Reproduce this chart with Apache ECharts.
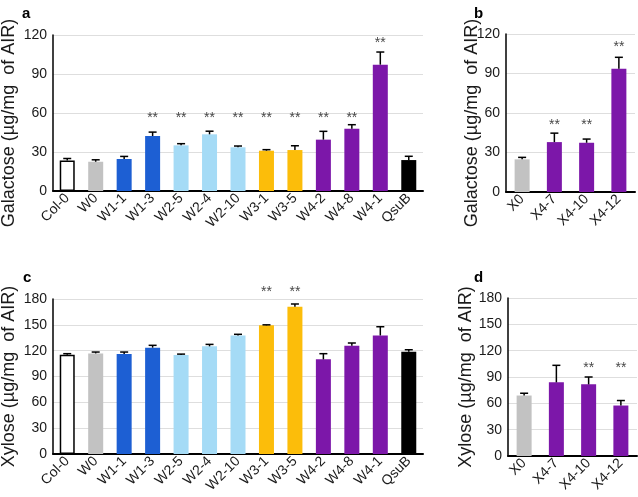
<!DOCTYPE html>
<html>
<head>
<meta charset="utf-8">
<script src="https://cdn.jsdelivr.net/npm/echarts@6/dist/echarts.min.js"></script>
<style>
html, body { margin: 0; padding: 0; background: #fff; }
#chart { width: 638px; height: 497px; }
</style>
</head>
<body>
<div id="chart"></div>
<script>
// lines in panels a/c and b/d
var linesW = ['Col-0', 'W0', 'W1-1', 'W1-3', 'W2-5', 'W2-4', 'W2-10', 'W3-1', 'W3-5', 'W4-2', 'W4-8', 'W4-1', 'QsuB'];
var linesX = ['X0', 'X4-7', 'X4-10', 'X4-12'];

// a: galactose, W lines
var galA = [23.5, 22.5, 24.6, 42.3, 35.1, 43.6, 33.6, 31, 31.5, 39.5, 47.9, 97.2, 23.8];
var galAErr = [1.5, 1.5, 2, 3, 1.3, 2.4, 1, 0.8, 3.3, 6.4, 3.1, 9.7, 2.9];
var galAStars = [null, null, null, 56, 56, 56, 56, 56, 56, 56, 56, 114, null];

// b: galactose, X lines
var galB = [24.8, 37.9, 37.4, 93.7];
var galBErr = [1.5, 6.8, 2.8, 8.6];
var galBStars = [null, 51, 51, 110];

// c: xylose, W lines
var xylC = [115.3, 116.8, 116.1, 123.5, 115, 125, 137.7, 149.4, 171, 109.9, 125.8, 137.7, 118.8];
var xylCErr = [1.2, 1.6, 2.3, 2.7, 1, 2.3, 1.3, 0.6, 3.2, 6.6, 3.1, 10.1, 2.3];
var xylCStars = [null, null, null, null, null, null, null, 188, 188, null, null, null, null];

// d: xylose, X lines
var xylD = [68.9, 83.9, 81.6, 57.5];
var xylDErr = [2.6, 19.4, 8.4, 5.7];
var xylDStars = [null, null, 100, 100];

var galTicks = { max: 120, interval: 30 };
var xylTicks = { max: 180, interval: 30 };

var font = 'Liberation Sans, Arial, sans-serif';

function barStyle(name) {
    if (name === 'Col-0') return { color: '#fff', borderColor: '#000', borderWidth: 1.5 };
    if (name === 'W0' || name === 'X0') return { color: '#c2c2c2' };
    if (name === 'QsuB') return { color: '#000' };
    var g = name.slice(0, 2);
    if (g === 'W1') return { color: '#1d5fd3' };
    if (g === 'W2') return { color: '#a5dbf6' };
    if (g === 'W3') return { color: '#fcbd0a' };
    return { color: '#7c17a9' };
}

// upward error bar with a cap
function renderErr(params, api) {
    var x = api.value(0);
    var base = api.coord([x, api.value(1)]);
    var top = api.coord([x, api.value(2)]);
    var ls = { stroke: '#000', lineWidth: 1.5 };
    return {
        type: 'group',
        children: [
            { type: 'line', shape: { x1: base[0], y1: base[1], x2: top[0], y2: top[1] }, style: ls },
            { type: 'line', shape: { x1: top[0] - 4, y1: top[1], x2: top[0] + 4, y2: top[1] }, style: ls }
        ]
    };
}

function xAxisFor(idx, cats) {
    return {
        type: 'category', gridIndex: idx, data: cats,
        axisLine: { lineStyle: { color: '#000', width: 2 } },
        axisTick: { show: false },
        axisLabel: { interval: 0, rotate: 45, fontSize: 14, margin: 5, color: '#1a1a1a', fontFamily: font }
    };
}

function yAxisFor(idx, ticks, name, gap, shift) {
    return {
        type: 'value', gridIndex: idx, min: 0, max: ticks.max, interval: ticks.interval,
        name: name, nameLocation: 'middle', nameGap: gap, nameMoveOverlap: false,
        nameTextStyle: { fontSize: 18, color: '#1a1a1a', fontFamily: font, padding: [0, shift, 0, 0] },
        axisLine: { show: true, lineStyle: { color: '#000', width: 1.5 } },
        axisTick: { show: false },
        axisLabel: { fontSize: 14, margin: 6, color: '#1a1a1a', fontFamily: font },
        splitLine: { lineStyle: { color: '#dedede', width: 1 } }
    };
}

function seriesFor(idx, cats, vals, errs, stars) {
    var starPts = [];
    stars.forEach(function (s, i) { if (s != null) starPts.push([i, s]); });
    return [
        {
            type: 'bar', xAxisIndex: idx, yAxisIndex: idx, barWidth: 15,
            data: vals.map(function (v, i) { return { value: v, itemStyle: barStyle(cats[i]) }; })
        },
        {
            type: 'custom', xAxisIndex: idx, yAxisIndex: idx, z: 3,
            renderItem: renderErr,
            encode: { x: 0, y: [1, 2] },
            data: vals.map(function (v, i) { return [i, v, v + errs[i]]; })
        },
        {
            type: 'scatter', xAxisIndex: idx, yAxisIndex: idx, clip: false,
            symbolSize: 0, itemStyle: { color: 'transparent' },
            label: { show: true, position: 'inside', formatter: '**', fontSize: 14, color: '#111', fontFamily: font },
            data: starPts
        }
    ];
}

var chart = echarts.init(document.getElementById('chart'));
var option = {
    animation: false,
    textStyle: { fontFamily: font },
    title: [
        { text: 'a', left: 17, top: 1, textStyle: { fontSize: 15, fontWeight: 'bold', color: '#000' } },
        { text: 'b', left: 469, top: 1, textStyle: { fontSize: 15, fontWeight: 'bold', color: '#000' } },
        { text: 'c', left: 18, top: 265, textStyle: { fontSize: 15, fontWeight: 'bold', color: '#000' } },
        { text: 'd', left: 469, top: 265, textStyle: { fontSize: 15, fontWeight: 'bold', color: '#000' } }
    ],
    grid: [
        { left: 53, top: 35, width: 370, height: 156, outerBoundsMode: 'none' },
        { left: 506, top: 34, width: 129, height: 158, outerBoundsMode: 'none' },
        { left: 53, top: 299, width: 370, height: 155, outerBoundsMode: 'none' },
        { left: 508, top: 298, width: 129, height: 158, outerBoundsMode: 'none' }
    ],
    xAxis: [
        xAxisFor(0, linesW),
        xAxisFor(1, linesX),
        xAxisFor(2, linesW),
        xAxisFor(3, linesX)
    ],
    yAxis: [
        yAxisFor(0, galTicks, 'Galactose (µg/mg  of AIR)', 35, 20),
        yAxisFor(1, galTicks, 'Galactose (µg/mg  of AIR)', 25, 20),
        yAxisFor(2, xylTicks, 'Xylose (µg/mg  of AIR)', 35, 0),
        yAxisFor(3, xylTicks, 'Xylose (µg/mg  of AIR)', 33, 0)
    ],
    series: [].concat(
        seriesFor(0, linesW, galA, galAErr, galAStars),
        seriesFor(1, linesX, galB, galBErr, galBStars),
        seriesFor(2, linesW, xylC, xylCErr, xylCStars),
        seriesFor(3, linesX, xylD, xylDErr, xylDStars)
    )
};
chart.setOption(option);
</script>
</body>
</html>
